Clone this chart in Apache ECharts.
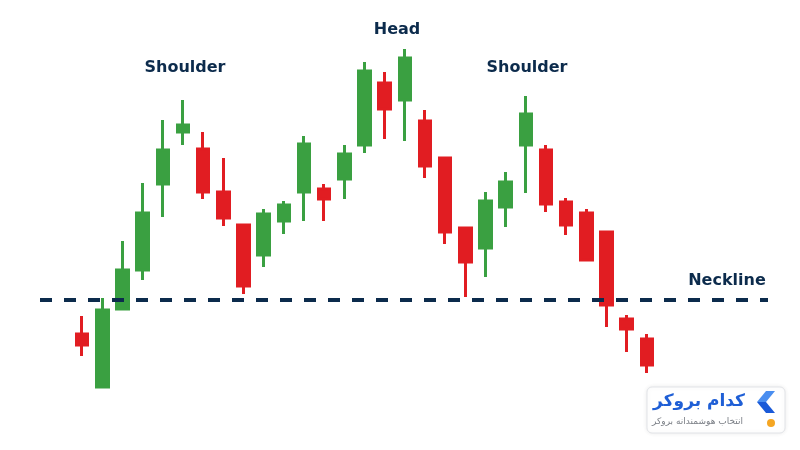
<!DOCTYPE html>
<html>
<head>
<meta charset="utf-8">
<script src="https://cdn.jsdelivr.net/npm/echarts@6/dist/echarts.min.js"></script>
<style>
  html, body { margin: 0; padding: 0; background: #ffffff; }
  #chart { width: 800px; height: 450px; }
</style>
</head>
<body>
<div id="chart"></div>
<script>
// candles: [open, close, low, high]
const days = [
  "1", "2", "3", "4", "5", "6", "7", "8", "9", "10",
  "11", "12", "13", "14", "15", "16", "17", "18", "19", "20",
  "21", "22", "23", "24", "25", "26", "27", "28", "29"
];
const candles = [
  [116, 105, 94, 134],
  [63, 140, 63, 152],
  [141, 180, 141, 209],
  [180, 237, 170, 267],
  [266, 300, 233, 330],
  [318, 325, 305, 350],
  [301, 258, 251, 318],
  [258, 232, 224, 292],
  [225, 164, 156, 225],
  [195, 236, 183, 241],
  [229, 245, 216, 249],
  [258, 306, 229, 314],
  [261, 251, 229, 266],
  [271, 296, 251, 305],
  [305, 379, 297, 388],
  [367, 341, 311, 378],
  [350, 392, 309, 401],
  [329, 284, 272, 340],
  [292, 218, 206, 292],
  [222, 188, 153, 222],
  [202, 249, 173, 258],
  [243, 268, 223, 278],
  [305, 336, 257, 354],
  [300, 246, 238, 305],
  [248, 225, 215, 252],
  [237, 190, 190, 241],
  [218, 145, 123, 218],
  [131, 121, 98, 135],
  [111, 85, 77, 116]
];
const necklineLevel = 150;
const labels = ["Shoulder", "Head", "Shoulder", "Neckline"];
const brandName = "کدام بروکر";
const brandTagline = "انتخاب هوشمندانه بروکر";

const navy = "#0c2b4c";
const green = "#3aa041";
const red = "#e11d22";
const labelFont = "bold 16px 'DejaVu Sans'";

const chart = echarts.init(document.getElementById("chart"));

chart.setOption({
  backgroundColor: "#ffffff",
  animation: false,
  grid: [
    { left: 72, right: 143, top: 0, bottom: 0 },
    { left: 40, right: 32, top: 0, bottom: 0 }
  ],
  xAxis: [
    { type: "category", gridIndex: 0, data: days, show: false },
    { type: "value", gridIndex: 1, min: 0, max: 1, show: false }
  ],
  yAxis: [
    { type: "value", gridIndex: 0, min: 0, max: 450, show: false },
    { type: "value", gridIndex: 1, min: 0, max: 450, show: false }
  ],
  series: [
    {
      type: "candlestick",
      xAxisIndex: 0,
      yAxisIndex: 0,
      data: candles,
      barWidth: 12,
      z: 2,
      itemStyle: {
        color: green,
        color0: red,
        borderColor: green,
        borderColor0: red,
        borderWidth: 3
      }
    },
    {
      type: "line",
      xAxisIndex: 1,
      yAxisIndex: 1,
      data: [[0, necklineLevel], [1, necklineLevel]],
      symbol: "none",
      z: 5,
      lineStyle: { color: navy, width: 4, type: [12, 12] }
    }
  ],
  graphic: [
    {
      type: "text", x: 185, y: 68,
      style: { text: labels[0], fill: navy, font: labelFont, align: "center", verticalAlign: "middle" }
    },
    {
      type: "text", x: 397, y: 30,
      style: { text: labels[1], fill: navy, font: labelFont, align: "center", verticalAlign: "middle" }
    },
    {
      type: "text", x: 527, y: 68,
      style: { text: labels[2], fill: navy, font: labelFont, align: "center", verticalAlign: "middle" }
    },
    {
      type: "text", x: 727, y: 281,
      style: { text: labels[3], fill: navy, font: labelFont, align: "center", verticalAlign: "middle" }
    },
    {
      type: "group", x: 647, y: 387,
      children: [
        {
          type: "rect",
          shape: { x: 0, y: 0, width: 138, height: 46, r: 5 },
          style: {
            fill: "#ffffff", stroke: "#e2e4e8", lineWidth: 1,
            shadowBlur: 4, shadowColor: "rgba(0,0,0,0.08)"
          }
        },
        {
          type: "text", x: 98, y: 15,
          style: {
            text: brandName, fill: "#1f5fd6", align: "right", verticalAlign: "middle",
            font: "bold 17px 'DejaVu Sans'"
          }
        },
        {
          type: "text", x: 96, y: 35,
          style: {
            text: brandTagline, fill: "#7b7f86", align: "right", verticalAlign: "middle",
            font: "9px 'DejaVu Sans'"
          }
        },
        {
          type: "polygon",
          shape: { points: [[119, 4], [128, 4], [119, 15], [110, 15]] },
          style: { fill: "#4a8ef0" }
        },
        {
          type: "polygon",
          shape: { points: [[110, 15], [119, 15], [128, 26], [119, 26]] },
          style: { fill: "#1a5ad8" }
        },
        {
          type: "circle",
          shape: { cx: 124, cy: 36, r: 4 },
          style: { fill: "#f5a623" }
        }
      ]
    }
  ]
});
</script>
</body>
</html>
